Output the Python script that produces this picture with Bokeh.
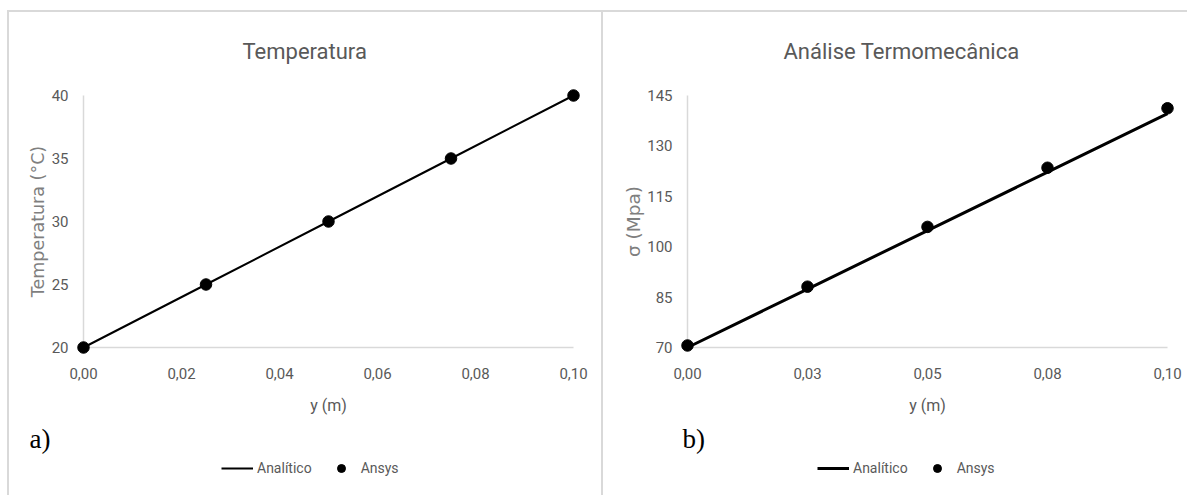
from bokeh.plotting import figure
from bokeh.models import Range1d, Legend, LegendItem, Title
from bokeh.layouts import row, column
from bokeh.embed import file_html
from bokeh.resources import INLINE

# ---- data -------------------------------------------------------------
temp_y = [0.0, 0.025, 0.05, 0.075, 0.10]
temp_analitico = [20, 25, 30, 35, 40]
temp_ansys = [20, 25, 30, 35, 40]
temp_xticks = [0.0, 0.02, 0.04, 0.06, 0.08, 0.10]
temp_xtick_labels = ["0,00", "0,02", "0,04", "0,06", "0,08", "0,10"]
temp_yticks = [20, 25, 30, 35, 40]

sigma_y = [0.0, 0.025, 0.05, 0.075, 0.10]
sigma_analitico = [70.0, 87.4, 104.8, 122.2, 139.6]
sigma_ansys = [70.6, 88.1, 105.9, 123.5, 141.2]
sigma_xticks = [0.0, 0.025, 0.05, 0.075, 0.10]
sigma_xtick_labels = ["0,00", "0,03", "0,05", "0,08", "0,10"]
sigma_yticks = [70, 85, 100, 115, 130, 145]

legend_labels = ["Analítico", "Ansys"]

FONT = "Roboto"
GREY = "#595959"
BORDER = "#d9d9d9"
H = 495
H_CHART = 458
H_LEG = H - H_CHART
NAN = float("nan")


def panel(xs, line_vals, dot_vals, xticks, xlabels, yticks, title, ylabel, tag,
          width, off, x0px, x1px, line_w, legend_left, tag_x, title_left,
          ylabel_size, ylabel_standoff, borders):
    y1px, y0px = 95, 347
    pad = 9
    xmin, xmax = xticks[0], xticks[-1]
    ymin, ymax = yticks[0], yticks[-1]
    sx = (xmax - xmin) / (x1px - x0px)
    sy = (ymax - ymin) / (y0px - y1px)
    frame_left = x0px - pad

    p = figure(width=width, height=H_CHART, output_backend="svg", toolbar_location=None,
               x_range=Range1d(xmin - pad * sx, xmax + pad * sx),
               y_range=Range1d(ymin - pad * sy, ymax + pad * sy),
               min_border_left=frame_left - off,
               min_border_right=off + width - (x1px + pad),
               min_border_top=y1px - pad,
               min_border_bottom=H_CHART - (y0px + pad))
    p.border_fill_color = None
    p.background_fill_color = None
    p.outline_line_color = None
    p.xgrid.visible = False
    p.ygrid.visible = False
    for ax in (p.xaxis[0], p.yaxis[0]):
        ax.axis_line_color = None
        ax.major_tick_line_color = None
        ax.minor_tick_line_color = None
        ax.major_label_text_font = FONT
        ax.major_label_text_font_size = "15px"
        ax.major_label_text_color = GREY
    p.xaxis.ticker = xticks
    p.xaxis.major_label_overrides = {float(t): l for t, l in zip(xticks, xlabels)}
    p.yaxis.ticker = yticks
    p.xaxis.major_label_standoff = 5
    p.yaxis.major_label_standoff = 0
    p.xaxis.axis_label = "y (m)"
    p.xaxis.axis_label_text_font = FONT
    p.xaxis.axis_label_text_font_size = "16px"
    p.xaxis.axis_label_text_font_style = "normal"
    p.xaxis.axis_label_text_color = GREY
    p.xaxis.axis_label_standoff = 14
    p.yaxis.axis_label = ylabel
    p.yaxis.axis_label_text_font = "DejaVu Sans"
    p.yaxis.axis_label_text_font_size = ylabel_size
    p.yaxis.axis_label_text_font_style = "normal"
    p.yaxis.axis_label_text_color = "#7f7f7f"
    p.yaxis.axis_label_standoff = ylabel_standoff

    # axis lines (light grey), spanning the tick range only
    p.segment(x0=[xmin, xmin], y0=[ymin, ymin], x1=[xmin, xmax], y1=[ymax, ymin],
              line_color=BORDER, line_width=1.5)

    p.line(xs, line_vals, line_color="black", line_width=line_w)
    p.scatter(xs, dot_vals, size=11.5, color="black")

    p.title.text = title
    p.title.align = "left"
    p.title.offset = title_left - frame_left
    p.title.standoff = 46
    p.title.text_font = FONT
    p.title.text_font_size = "22px"
    p.title.text_font_style = "normal"
    p.title.text_color = GREY

    p.add_layout(Title(text=tag, align="left", offset=tag_x - frame_left,
                       text_font="Liberation Serif", text_font_size="27px",
                       text_font_style="normal", text_color="black", standoff=9), "below")

    # strip below the chart holding the legend
    q = figure(width=width, height=H_LEG, output_backend="svg", toolbar_location=None,
               x_range=Range1d(0, 1), y_range=Range1d(0, 1),
               x_axis_type=None, y_axis_type=None,
               min_border=0, min_border_left=0, min_border_right=0,
               min_border_top=0, min_border_bottom=0)
    q.title.visible = False
    q.border_fill_color = None
    q.background_fill_color = None
    q.outline_line_color = None
    ln = q.line(x=[NAN], y=[NAN], line_color="black", line_width=line_w)
    dots = q.scatter(x=[NAN], y=[NAN], size=11.5, color="black")
    legend = Legend(items=[LegendItem(label=legend_labels[0], renderers=[ln]),
                           LegendItem(label=legend_labels[1], renderers=[dots])],
                    orientation="horizontal",
                    location=(legend_left - frame_left, H - 478),
                    border_line_color=None, background_fill_alpha=0,
                    padding=0, margin=0, spacing=13, glyph_width=32,
                    glyph_height=20, label_standoff=4,
                    label_text_font=FONT, label_text_font_size="14px",
                    label_text_color=GREY)
    q.add_layout(legend)
    col = column(p, q, spacing=0)
    col.styles = {"background": borders + ", white"}
    return col


G = "linear-gradient(#d9d9d9,#d9d9d9)"
left_borders = (f"{G} 7px 10px/2px 485px no-repeat, {G} 7px 10px/596px 2px no-repeat, "
                f"{G} 601px 10px/2px 485px no-repeat")
right_borders = f"{G} 0px 10px/584px 2px no-repeat"

c1 = panel(temp_y, temp_analitico, temp_ansys, temp_xticks, temp_xtick_labels, temp_yticks,
           "Temperatura", "Temperatura (°C)", "a)",
           width=603, off=0, x0px=83, x1px=573, line_w=2,
           legend_left=221, tag_x=29, title_left=242, ylabel_size="17.5px",
           ylabel_standoff=1, borders=left_borders)
c2 = panel(sigma_y, sigma_analitico, sigma_ansys, sigma_xticks, sigma_xtick_labels, sigma_yticks,
           "Análise Termomecânica", "σ (Mpa)", "b)",
           width=584, off=603, x0px=687, x1px=1167, line_w=3,
           legend_left=817, tag_x=682, title_left=783, ylabel_size="18.5px",
           ylabel_standoff=0, borders=right_borders)

layout = row(c1, c2, spacing=0)
open("out.html", "w").write(file_html(layout, INLINE))
